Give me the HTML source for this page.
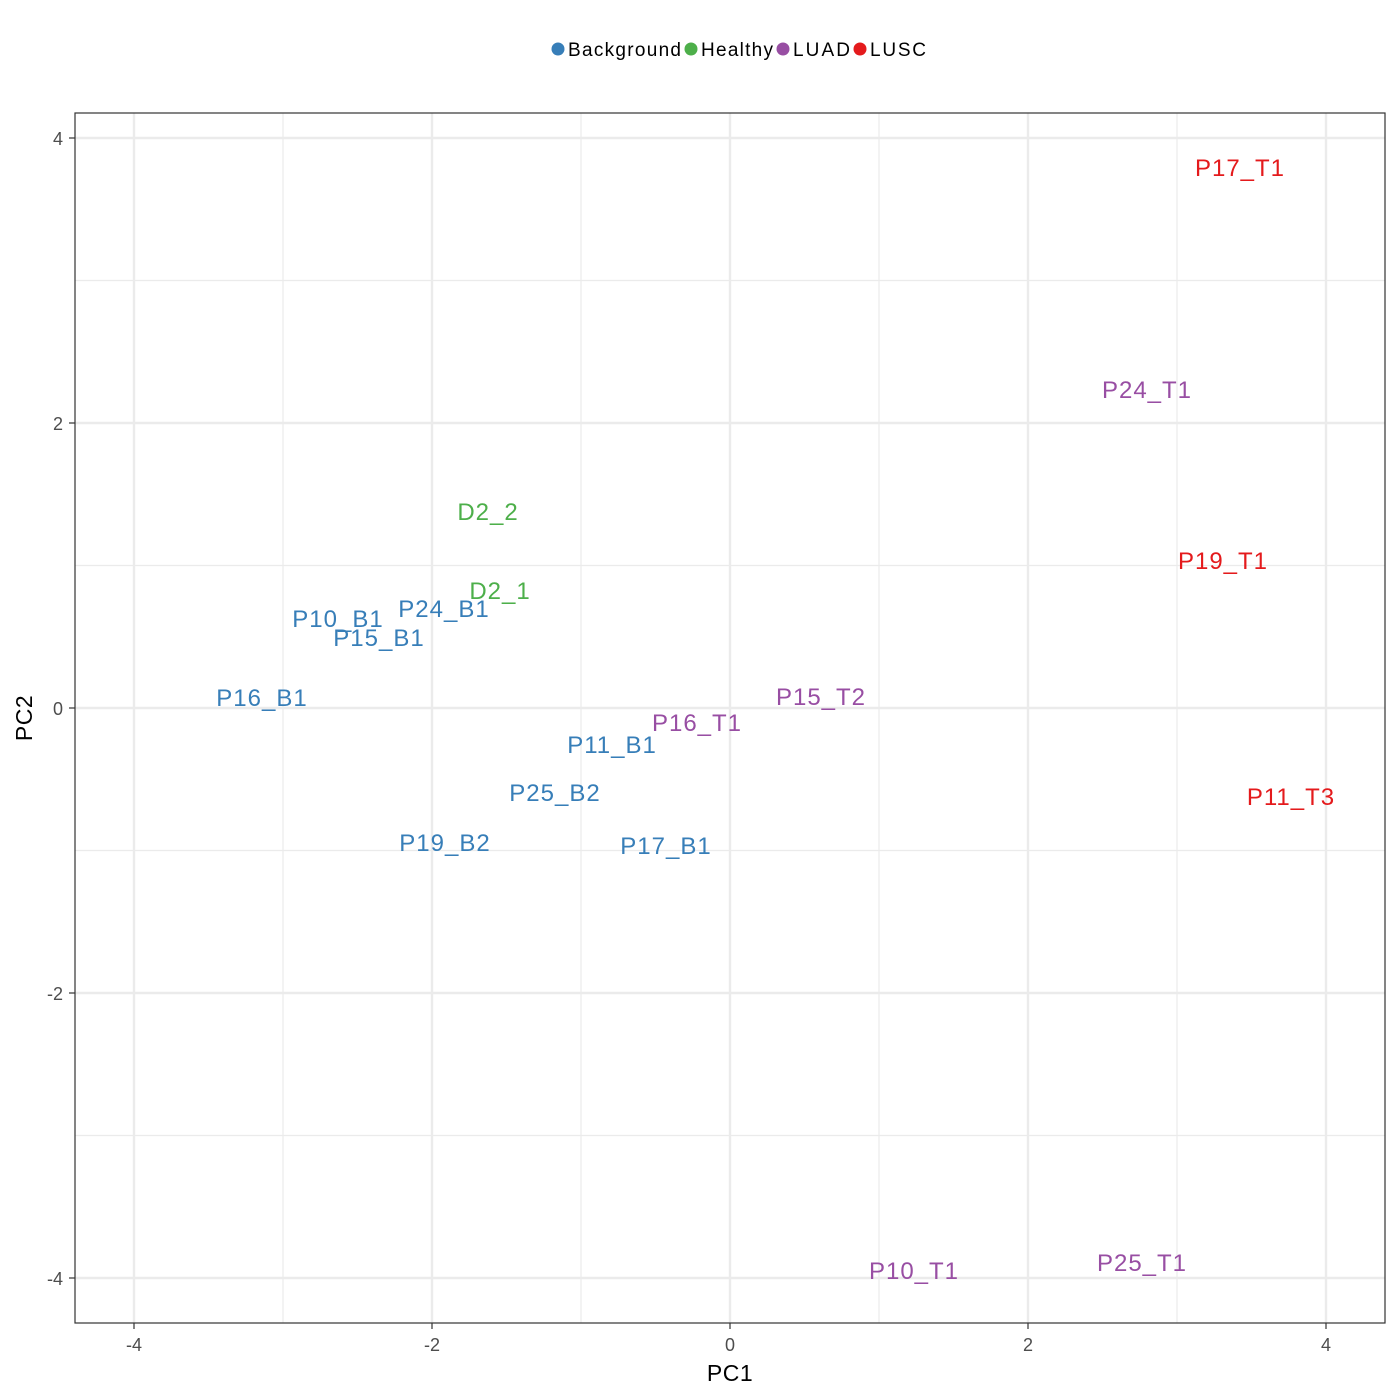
<!DOCTYPE html>
<html><head><meta charset="utf-8"><style>body{margin:0;background:#fff}svg{display:block}</style></head><body>
<svg width="1400" height="1400" xmlns="http://www.w3.org/2000/svg" font-family="Liberation Sans, sans-serif">
<rect width="1400" height="1400" fill="#fff"/>
<g stroke="#ebebeb" stroke-width="1.2">
<line x1="283" y1="113" x2="283" y2="1323"/><line x1="581" y1="113" x2="581" y2="1323"/><line x1="879" y1="113" x2="879" y2="1323"/><line x1="1177" y1="113" x2="1177" y2="1323"/>
<line x1="75" y1="280.5" x2="1385" y2="280.5"/><line x1="75" y1="565.5" x2="1385" y2="565.5"/><line x1="75" y1="850.5" x2="1385" y2="850.5"/><line x1="75" y1="1135.5" x2="1385" y2="1135.5"/>
</g>
<g stroke="#ebebeb" stroke-width="2.4">
<line x1="134" y1="113" x2="134" y2="1323"/><line x1="432" y1="113" x2="432" y2="1323"/><line x1="730" y1="113" x2="730" y2="1323"/><line x1="1028" y1="113" x2="1028" y2="1323"/><line x1="1326" y1="113" x2="1326" y2="1323"/>
<line x1="75" y1="138" x2="1385" y2="138"/><line x1="75" y1="423" x2="1385" y2="423"/><line x1="75" y1="708" x2="1385" y2="708"/><line x1="75" y1="993" x2="1385" y2="993"/><line x1="75" y1="1278" x2="1385" y2="1278"/>
</g>
<rect x="75" y="113" width="1310" height="1210" fill="none" stroke="#333" stroke-width="1.2"/>
<g stroke="#333" stroke-width="1.2">
<line x1="134" y1="1323" x2="134" y2="1329"/><line x1="432" y1="1323" x2="432" y2="1329"/><line x1="730" y1="1323" x2="730" y2="1329"/><line x1="1028" y1="1323" x2="1028" y2="1329"/><line x1="1326" y1="1323" x2="1326" y2="1329"/>
<line x1="69" y1="138" x2="75" y2="138"/><line x1="69" y1="423" x2="75" y2="423"/><line x1="69" y1="708" x2="75" y2="708"/><line x1="69" y1="993" x2="75" y2="993"/><line x1="69" y1="1278" x2="75" y2="1278"/>
</g>
<g font-size="18" fill="#4d4d4d" text-anchor="middle">
<text x="134" y="1351">-4</text><text x="432" y="1351">-2</text><text x="730" y="1351">0</text><text x="1028" y="1351">2</text><text x="1326" y="1351">4</text>
</g>
<g font-size="18" fill="#4d4d4d" text-anchor="end">
<text x="63" y="145">4</text><text x="63" y="430">2</text><text x="63" y="715">0</text><text x="63" y="1000">-2</text><text x="63" y="1285">-4</text>
</g>
<text x="730" y="1381" font-size="23" text-anchor="middle" letter-spacing="0.5">PC1</text>
<text transform="translate(32,718) rotate(-90)" font-size="23" text-anchor="middle" letter-spacing="0.5">PC2</text>
<g font-size="19">
<circle cx="558" cy="49" r="6.5" fill="#377eb8"/><text x="568" y="56" textLength="113" lengthAdjust="spacing">Background</text>
<circle cx="691" cy="49" r="6.5" fill="#4daf4a"/><text x="701" y="56" textLength="72" lengthAdjust="spacing">Healthy</text>
<circle cx="783" cy="49" r="6.5" fill="#984ea3"/><text x="793" y="56" textLength="57" lengthAdjust="spacing">LUAD</text>
<circle cx="860" cy="49" r="6.5" fill="#e41a1c"/><text x="870" y="56" textLength="56" lengthAdjust="spacing">LUSC</text>
</g>
<g font-size="24" text-anchor="middle" letter-spacing="1">
<g fill="#e41a1c"><text x="1240" y="176">P17_T1</text><text x="1223" y="569">P19_T1</text><text x="1291" y="805">P11_T3</text></g>
<g fill="#984ea3"><text x="1147" y="398">P24_T1</text><text x="821" y="705">P15_T2</text><text x="697" y="731">P16_T1</text><text x="914" y="1279">P10_T1</text><text x="1142" y="1271">P25_T1</text></g>
<g fill="#4daf4a"><text x="488" y="520">D2_2</text><text x="500" y="599">D2_1</text></g>
<g fill="#377eb8"><text x="338" y="627">P10_B1</text><text x="444" y="617">P24_B1</text><text x="379" y="646">P15_B1</text><text x="262" y="706">P16_B1</text><text x="612" y="753">P11_B1</text><text x="555" y="801">P25_B2</text><text x="445" y="851">P19_B2</text><text x="666" y="854">P17_B1</text></g>
</g>
</svg>
</body></html>
